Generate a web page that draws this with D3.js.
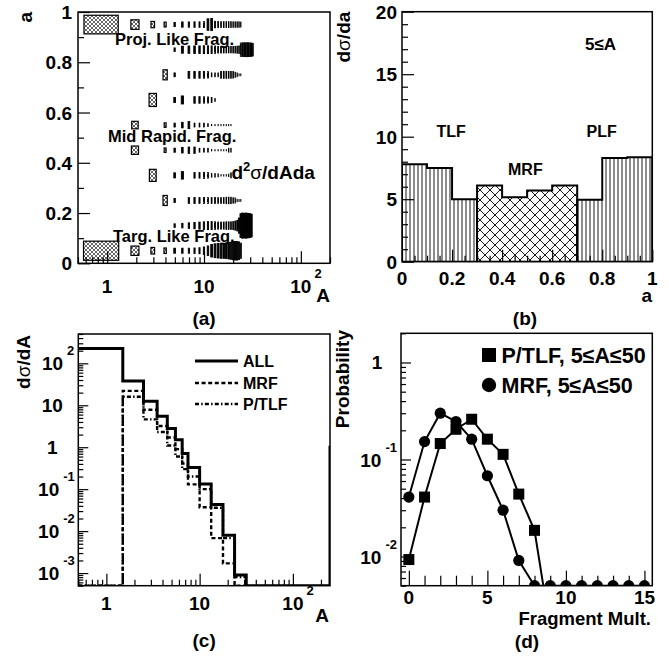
<!DOCTYPE html>
<html>
<head>
<meta charset="utf-8">
<script src="https://cdn.jsdelivr.net/npm/d3@7"></script>
<style>
  body { margin: 0; background: #fff; }
  svg { display: block; }
  text { font-family: "Liberation Sans", Arial, Helvetica, sans-serif; font-weight: bold; fill: #000; }
</style>
</head>
<body>
<svg id="fig" width="669" height="658"></svg>
<script>
// ---------------- data ----------------

// (a) d2sigma/dAda map: rows of a-bins (centres), columns A = 1..32
const aCenters = [0.05, 0.15, 0.25, 0.35, 0.45, 0.55, 0.65, 0.75, 0.85, 0.95];
const massNumbers = d3.range(1, 33);
const row005 = [58, 13.7, 6.8, 4.8, 4.0, 4.0, 4.0, 4.8, 5.8, 9.0, 14.4, 25, 30.3, 33.6, 36, 36, 38.4, 42.3, 46.2, 51.8, 54.8, 54.8, 49, 36, 0, 0, 0, 0, 0, 0, 0, 0];
const row015 = [0, 0, 0, 0, 2.0, 3.2, 4.8, 6.3, 7.8, 9.0, 10.2, 10.2, 9.0, 7.8, 7.8, 7.8, 9.0, 9.0, 9.0, 10.2, 13, 17.6, 36, 90, 100, 94, 100, 96, 92, 90, 81, 0];
const row025 = [0, 0, 0, 16, 2.6, 0, 5.0, 5.5, 5.3, 5.6, 5.2, 5.3, 5.5, 5.0, 5.3, 5.3, 6.3, 6.8, 6.3, 4.8, 4.0, 1.0, 0.6, 0.6, 0, 0, 0, 0, 0, 0, 0, 0];
const row035 = [0, 0, 23, 0, 4.0, 9.0, 0, 4.8, 4.8, 5.8, 4.8, 2.0, 2.0, 1.4, 0.36, 0.36, 0.36, 1.0, 4.0, 0, 0, 0, 0, 0, 0, 0, 0, 0, 0, 0, 0, 0];
const row045 = [0, 11, 0, 3.2, 2.6, 4.8, 6.3, 6.3, 2.3, 2.3, 2.3, 0.36, 0.25, 0.25, 0.25, 0.25, 0.25, 2.3, 2.3, 0, 0, 0, 0, 0, 0, 0, 0, 0, 0, 0, 0, 0];
const row055 = [0, 9.0, 0, 3.2, 2.3, 4.8, 7.8, 2.3, 2.3, 2.3, 1.4, 0.25, 0.25, 0.25, 0.25, 0.25, 0.25, 0.25, 0.25, 0, 0, 0, 0, 0, 0, 0, 0, 0, 0, 0, 0, 0];
const row065 = [0, 0, 27, 0, 4.0, 10.2, 0, 6.8, 6.8, 6.3, 5.8, 4.0, 1.4, 0, 0, 0, 0, 0, 0, 0, 0, 0, 0, 0, 0, 0, 0, 0, 0, 0, 0, 0];
const row075 = [0, 0, 0, 16, 2.3, 0, 7.3, 7.3, 7.3, 7.3, 6.3, 2.3, 2.3, 2.3, 7.3, 7.8, 7.8, 7.3, 7.3, 6.8, 4.0, 2.3, 0.6, 0.6, 0, 0, 0, 0, 0, 0, 0, 0];
const row085 = [0, 0, 0, 0, 2.0, 7.8, 8.4, 9.0, 9.0, 9.6, 9.6, 9.0, 8.4, 6.8, 6.8, 6.8, 6.3, 6.3, 6.3, 6.8, 6.8, 7.8, 9.0, 28, 30, 30, 30, 31, 30, 29, 28, 25];
const row095 = [55, 14.4, 6.3, 3.6, 2.6, 4.4, 4.4, 4.8, 4.8, 5.3, 21, 23, 6.8, 5.8, 5.3, 5.3, 5.3, 5.3, 5.3, 4.8, 4.8, 4.8, 4.8, 4.0, 0, 0, 0, 0, 0, 0, 0, 0];
const cellRows = [row005, row015, row025, row035, row045, row055, row065, row075, row085, row095];

// (b) dsigma/da for fragments with 5<=A, bin width 0.1
const tlfEdges = [0, 0.1, 0.2, 0.3];
const tlfValues = [7.8, 7.5, 5.0];
const mrfEdges = [0.3, 0.4, 0.5, 0.6, 0.7];
const mrfValues = [6.1, 5.15, 5.7, 6.1];
const plfEdges = [0.7, 0.8, 0.9, 1.0];
const plfValues = [4.95, 8.3, 8.35];

// (c) dsigma/dA by source
const massEdges = [0.5, 1.5, 2.5, 3.5, 4.5, 5.5, 6.5, 7.5, 10, 13.3, 17.8, 23.7, 31.6];
const allEdges = massEdges.concat([250, 300]);          // last bin: heavy residues at the edge
const dsdA_all = [226, 38, 12.4, 5.5, 2.8, 1.5, 0.71, 0.33, 0.133, 0.043, 0.008, 0.0009, 0, 1];
const dsdA_mrf = [0, 22, 7.8, 3.2, 1.7, 0.9, 0.41, 0.13, 0.037, 0.0068, 0.0017, 0];
const dsdA_ptlf = [0, 16, 4.6, 2.3, 1.1, 0.6, 0.3, 0.2, 0.1, 0.036, 0.0068, 0.0008];

// (d) fragment multiplicity distributions, 5<=A<=50
const multPTLF = d3.range(0, 10);
const probPTLF = [0.0093, 0.041, 0.146, 0.205, 0.26, 0.162, 0.113, 0.044, 0.0186, 0.0018];
const multMRF = d3.range(0, 16);
const probMRF = [0.041, 0.153, 0.30, 0.246, 0.162, 0.068, 0.030, 0.0091, 0.005, 0.005, 0.005, 0.005, 0.005, 0.005, 0.005, 0.005];

// ---------------- helpers ----------------
const svg = d3.select("#fig");
svg.append("rect").attr("width", 669).attr("height", 658).attr("fill", "#fff");
const defs = svg.append("defs");

function hatchPattern(id, size, lines, sw) {
  const p = defs.append("pattern").attr("id", id).attr("patternUnits", "userSpaceOnUse")
    .attr("width", size).attr("height", size);
  p.append("rect").attr("width", size).attr("height", size).attr("fill", "#fff");
  lines.forEach(l => p.append("line").attr("x1", l[0]).attr("y1", l[1]).attr("x2", l[2]).attr("y2", l[3])
    .attr("stroke", "#000").attr("stroke-width", sw));
}
hatchPattern("boxHatch", 4, [[0, 0, 4, 4], [0, 4, 4, 0]], 0.6);
hatchPattern("vHatch", 4, [[2, 0, 2, 4]], 0.9);
hatchPattern("xHatch", 10, [[0, 0, 10, 10], [0, 10, 10, 0]], 0.9);

function clipRect(id, x0, y0, x1, y1) {
  defs.append("clipPath").attr("id", id).append("rect")
    .attr("x", x0).attr("y", y0).attr("width", x1 - x0).attr("height", y1 - y0);
}

function logTickValues(lo, hi) {
  const major = [], minor = [];
  for (let e = Math.floor(Math.log10(lo)); e <= Math.ceil(Math.log10(hi)); e++) {
    for (let m = 1; m < 10; m++) {
      const v = +(m * Math.pow(10, e)).toPrecision(4);
      if (v < lo * 0.9999 || v > hi * 1.0001) continue;
      (m === 1 ? major : minor).push(v);
    }
  }
  return { major, minor };
}

// inward ticks on the left frame edge
function leftTicks(g, scale, x, major, minor, majLen, minLen) {
  [[minor, minLen], [major, majLen]].forEach(([vals, len]) => {
    g.append("g").attr("transform", `translate(${x},0)`)
      .call(d3.axisRight(scale).tickValues(vals).tickSize(len).tickFormat(""))
      .call(s => s.select(".domain").remove())
      .call(s => s.selectAll("line").attr("stroke", "#000").attr("stroke-width", 1.2));
  });
}
// inward ticks on the bottom frame edge
function bottomTicks(g, scale, y, major, minor, majLen, minLen) {
  [[minor, minLen], [major, majLen]].forEach(([vals, len]) => {
    g.append("g").attr("transform", `translate(0,${y})`)
      .call(d3.axisTop(scale).tickValues(vals).tickSize(len).tickFormat(""))
      .call(s => s.select(".domain").remove())
      .call(s => s.selectAll("line").attr("stroke", "#000").attr("stroke-width", 1.2));
  });
}

function frame(g, x0, y0, x1, y1) {
  g.append("rect").attr("x", x0).attr("y", y0).attr("width", x1 - x0).attr("height", y1 - y0)
    .attr("fill", "none").attr("stroke", "#000").attr("stroke-width", 1.5);
}

function text(g, x, y, s, size, anchor) {
  return g.append("text").attr("x", x).attr("y", y).attr("font-size", size)
    .attr("text-anchor", anchor || "start").text(s);
}

// "10" with a raised exponent; x axis: base centred on the tick
function powerLabelX(g, x, y, exp) {
  const base = text(g, x, y, "10", 19, "middle");
  const w = base.node().getComputedTextLength();
  text(g, x + w / 2 + 3, y - 15, exp, 13, "start");
}
// y axis: whole label right aligned at xr
function powerLabelY(g, xr, yc, exp) {
  const e = text(g, xr, yc - 8, exp, 13, "end");
  const we = e.node().getComputedTextLength();
  text(g, xr - we - 4, yc + 7, "10", 19, "end");
}

function rotatedTitle(g, x, yTop, parts) {
  const t = g.append("text").attr("transform", `translate(${x},${yTop}) rotate(-90)`)
    .attr("text-anchor", "end").attr("font-size", 19);
  parts.forEach(p => t.append("tspan").attr("font-weight", p[1] || "bold").text(p[0]));
  return t;
}

function stepPoints(edges, vals, yMin) {
  const pts = [];
  vals.forEach((v, i) => {
    const vv = Math.max(v, yMin);
    pts.push([edges[i], vv], [edges[i + 1], vv]);
  });
  return pts;
}

// ================= panel (a) =================
(function () {
  const X0 = 78, X1 = 330, Y0 = 12, Y1 = 263.3;
  const g = svg.append("g");
  clipRect("clipA", X0, Y0, X1, Y1);
  const x = d3.scaleLog().domain([0.5, 200]).range([X0, X1]);
  const y = d3.scaleLinear().domain([0, 1]).range([Y1, Y0]);
  const zMax = d3.max(cellRows.flat());
  const boxSize = d3.scaleSqrt().domain([0, zMax]).range([0, 1]);

  const cells = [];
  cellRows.forEach((row, i) => row.forEach((v, j) => {
    if (v > 0) cells.push({ a: aCenters[i], A: massNumbers[j], v });
  }));
  g.append("g").attr("clip-path", "url(#clipA)").selectAll("rect").data(cells).join("rect")
    .each(function (d) {
      const xl = x(d.A - 0.5), xr = x(d.A + 0.5);
      const yt = y(d.a + 0.05), yb = y(d.a - 0.05);
      const r = boxSize(d.v);
      const w = (xr - xl) * r, h = (yb - yt) * r;
      d3.select(this).attr("x", (xl + xr) / 2 - w / 2).attr("y", (yt + yb) / 2 - h / 2)
        .attr("width", w).attr("height", h);
    })
    .attr("fill", d => d.A < 5 ? "url(#boxHatch)" : "#000")
    .attr("stroke", "#000").attr("stroke-width", d => d.A < 5 ? 1.2 : 0.9);

  const lx = logTickValues(0.5, 200);
  bottomTicks(g, x, Y1, lx.major, lx.minor, 12, 6);
  leftTicks(g, y, X0, [0, 0.2, 0.4, 0.6, 0.8, 1], [0.1, 0.3, 0.5, 0.7, 0.9], 12, 6);
  frame(g, X0, Y0, X1, Y1);

  ["0", "0.2", "0.4", "0.6", "0.8", "1"].forEach((s, i) => text(g, X0 - 6, y(i * 0.2) + 7, s, 19, "end"));
  text(g, x(1), 293, "1", 19, "middle");
  text(g, x(10), 293, "10", 19, "middle");
  powerLabelX(g, x(100), 293, "2");
  text(g, X1, 302, "A", 19, "end");
  rotatedTitle(g, 32, Y0, [["a"]]);
  text(g, (X0 + X1) / 2, 325, "(a)", 19, "middle");

  text(g, 115, 44.5, "Proj. Like Frag.", 16.5);
  text(g, 108, 141.5, "Mid Rapid. Frag.", 16.5);
  text(g, 113, 241.5, "Targ. Like Frag.", 16.5);
  const t = g.append("text").attr("x", 231.5).attr("y", 178.5).attr("font-size", 19);
  t.append("tspan").text("d");
  t.append("tspan").attr("font-size", 13).attr("dy", -8).text("2");
  t.append("tspan").attr("dy", 8).attr("font-weight", "normal").text("σ");
  t.append("tspan").text("/dAda");
})();

// ================= panel (b) =================
(function () {
  const X0 = 402, X1 = 652.3, Y0 = 11.7, Y1 = 261.7;
  const g = svg.append("g");
  clipRect("clipB", X0, Y0, X1, Y1);
  const x = d3.scaleLinear().domain([0, 1]).range([X0, X1]);
  const y = d3.scaleLinear().domain([0, 20]).range([Y1, Y0]);
  const line = d3.line().x(d => x(d[0])).y(d => y(d[1]));
  const hg = g.append("g").attr("clip-path", "url(#clipB)");
  [[tlfEdges, tlfValues, "url(#vHatch)"], [mrfEdges, mrfValues, "url(#xHatch)"], [plfEdges, plfValues, "url(#vHatch)"]]
    .forEach(([edges, vals, fill]) => {
      const pts = [[edges[0], 0]].concat(stepPoints(edges, vals, 0), [[edges[edges.length - 1], 0]]);
      hg.append("path").attr("d", line(pts) + "Z").attr("fill", fill)
        .attr("stroke", "#000").attr("stroke-width", 2).attr("stroke-linejoin", "miter");
    });

  bottomTicks(g, x, Y1, d3.range(0, 1.01, 0.2), d3.range(0.05, 1, 0.05).filter(v => Math.abs(v * 5 - Math.round(v * 5)) > 1e-6), 12, 6);
  leftTicks(g, y, X0, [0, 5, 10, 15, 20], d3.range(1, 20).filter(v => v % 5), 12, 6);
  frame(g, X0, Y0, X1, Y1);

  [0, 5, 10, 15, 20].forEach(v => text(g, X0 - 5, y(v) + 7, String(v), 19, "end"));
  ["0", "0.2", "0.4", "0.6", "0.8", "1"].forEach((s, i) => text(g, x(i * 0.2), 285, s, 19, "middle"));
  text(g, 652, 302, "a", 19, "end");
  rotatedTitle(g, 350, Y0, [["d"], ["σ", "normal"], ["/da"]]);
  text(g, 525, 325, "(b)", 19, "middle");

  text(g, 585, 50, "5≤A", 17);
  text(g, 436.5, 136.7, "TLF", 16);
  text(g, 508, 175, "MRF", 16);
  text(g, 586.5, 136.7, "PLF", 16);
})();

// ================= panel (c) =================
(function () {
  const X0 = 78.3, X1 = 330, Y0 = 334, Y1 = 585.7;
  const g = svg.append("g");
  clipRect("clipC", X0, Y0, X1, Y1);
  const x = d3.scaleLog().domain([0.5, 250]).range([X0, X1]);
  const y = d3.scaleLog().domain([5e-4, 500]).range([Y1, Y0]);
  const yMin = y.domain()[0];
  const line = d3.line().x(d => x(d[0])).y(d => y(d[1]));
  const cg = g.append("g").attr("clip-path", "url(#clipC)");
  const series = [
    { edges: allEdges, vals: dsdA_all, dash: null, w: 3 },
    { edges: massEdges, vals: dsdA_mrf, dash: "4,2.6", w: 2.4 },
    { edges: massEdges, vals: dsdA_ptlf, dash: "4,2.2,1.5,2.2", w: 2.4 }
  ];
  series.forEach(s => {
    cg.append("path").attr("d", line(stepPoints(s.edges, s.vals, yMin))).attr("fill", "none")
      .attr("stroke", "#000").attr("stroke-width", s.w).attr("stroke-dasharray", s.dash);
  });

  const lx = logTickValues(0.5, 250), ly = logTickValues(5e-4, 500);
  bottomTicks(g, x, Y1, lx.major, lx.minor, 12, 6);
  leftTicks(g, y, X0, ly.major, ly.minor, 10, 5);
  frame(g, X0, Y0, X1, Y1);

  // y tick labels
  text(g, X0 - 26, y(1) + 7, "1", 19, "middle");
  text(g, X0 - 26, y(10) + 7, "10", 19, "middle");
  powerLabelY(g, X0 - 4, y(100), "2");
  [-1, -2, -3].forEach(e => powerLabelY(g, X0 - 3.5, y(Math.pow(10, e)), String(e)));
  // x tick labels
  text(g, x(1), 610, "1", 19, "middle");
  text(g, x(10), 610, "10", 19, "middle");
  powerLabelX(g, x(100), 610, "2");
  text(g, 329, 622, "A", 19, "end");
  rotatedTitle(g, 30, 335, [["d"], ["σ", "normal"], ["/dA"]]);
  text(g, (X0 + X1) / 2, 647, "(c)", 19, "middle");

  // legend
  const leg = [["ALL", null, 3, 361], ["MRF", "4,2.6", 2.4, 383], ["P/TLF", "4,2.2,1.5,2.2", 2.4, 404]];
  leg.forEach(([name, dash, w, yy]) => {
    g.append("line").attr("x1", 195).attr("x2", 238).attr("y1", yy).attr("y2", yy)
      .attr("stroke", "#000").attr("stroke-width", w).attr("stroke-dasharray", dash);
    text(g, 243, yy + 6, name, 16);
  });
})();

// ================= panel (d) =================
(function () {
  const X0 = 401, X1 = 652.3, Y0 = 333.3, Y1 = 585.7;
  const g = svg.append("g");
  clipRect("clipD", X0, Y0, X1, Y1);
  const x = d3.scaleLinear().domain([-0.5, 15.5]).range([X0, X1]);
  const y = d3.scaleLog().domain([0.005, 2]).range([Y1, Y0]);
  const line = d3.line().x(d => x(d[0])).y(d => y(d[1]));
  const dg = g.append("g").attr("clip-path", "url(#clipD)");

  const ptlf = multPTLF.map((m, i) => [m, probPTLF[i]]);
  const mrf = multMRF.map((m, i) => [m, probMRF[i]]);
  [ptlf, mrf].forEach(pts => dg.append("path").attr("d", line(pts)).attr("fill", "none")
    .attr("stroke", "#000").attr("stroke-width", 2));
  const sq = 11;
  dg.selectAll("rect.sq").data(ptlf).join("rect").attr("class", "sq")
    .attr("x", d => x(d[0]) - sq / 2).attr("y", d => y(d[1]) - sq / 2)
    .attr("width", sq).attr("height", sq).attr("fill", "#000");
  dg.selectAll("circle").data(mrf).join("circle")
    .attr("cx", d => x(d[0])).attr("cy", d => y(d[1])).attr("r", 5.6).attr("fill", "#000");

  const ly = logTickValues(0.005, 2);
  bottomTicks(g, x, Y1, [0, 5, 10, 15], d3.range(0, 16).filter(v => v % 5), 15, 10);
  leftTicks(g, y, X0, ly.major, ly.minor, 10, 5);
  frame(g, X0, Y0, X1, Y1);

  text(g, X0 - 24, y(1) + 7, "1", 19, "middle");
  powerLabelY(g, X0 - 4, y(0.1), "-1");
  powerLabelY(g, X0 - 4, y(0.01), "-2");
  [0, 5, 10, 15].forEach(v => text(g, x(v), 604, String(v), 19, "middle"));
  text(g, 651, 625, "Fragment Mult.", 18.5, "end");
  rotatedTitle(g, 349, 330, [["Probability"]]);
  text(g, 527, 648, "(d)", 19, "middle");

  // legend
  g.append("rect").attr("x", 489 - 7).attr("y", 355 - 7).attr("width", 14).attr("height", 14).attr("fill", "#000");
  g.append("circle").attr("cx", 489).attr("cy", 385).attr("r", 7.2).attr("fill", "#000");
  text(g, 501.5, 362.5, "P/TLF, 5≤A≤50", 21.5);
  text(g, 501.5, 392.5, "MRF, 5≤A≤50", 21.5);
})();
</script>
</body>
</html>
